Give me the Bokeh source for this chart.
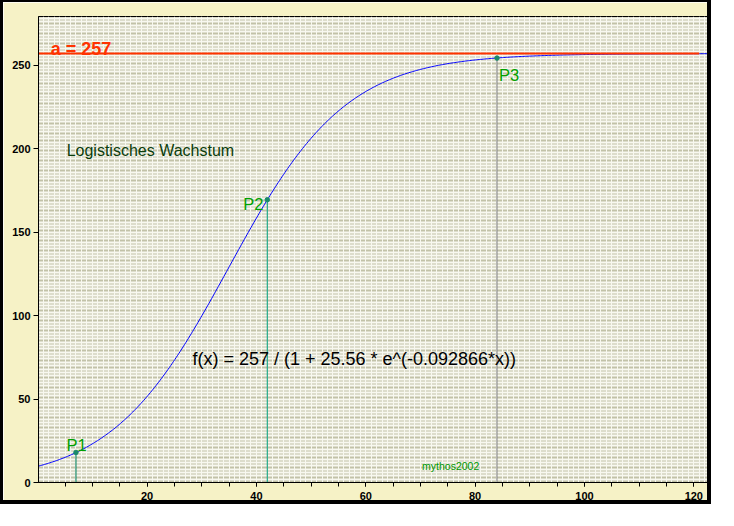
import numpy as np
from bokeh.plotting import figure
from bokeh.models import Range1d, SingleIntervalTicker, FixedTicker, Label
from bokeh.embed import file_html
from bokeh.resources import INLINE

# --- data ---------------------------------------------------------------
# logistic model shown in the chart: f(x) = a / (1 + b * e^(-k*x))
a = 257
b = 25.56
k = 0.092866
curve_x_start = 0
curve_x_end = 124
a_line_end = 121

point_names = ["P1", "P2", "P3"]
point_x = [7, 42, 84]
point_y = [18, 169.4, 254.3]
stem_colors = ["#1a8a6a", "#22a888", "#8c8c8c"]

x_ticks = [20, 40, 60, 80, 100, 120]
x_minor = list(range(5, 125, 5))
y_ticks = [0, 50, 100, 150, 200, 250]

title_text = "Logistisches Wachstum"
a_text = f"a = {a}"
formula_text = f"f(x) = {a} / (1 + {b} * e^(-{k}*x))"
credit_text = "mythos2002"

# --- figure -------------------------------------------------------------
FONT = "Liberation Sans"

p = figure(width=711, height=504,
           x_range=Range1d(0.15, 123.6), y_range=Range1d(0, 279.2),
           output_backend="svg", toolbar_location=None,
           min_border_left=35, min_border_right=1,
           min_border_top=14, min_border_bottom=24)
p.styles = {"border-style": "solid", "border-color": "#000000",
            "border-width": "2px 4px 4px 3px"}

p.border_fill_color = "#f6f2c6"
p.background_fill_color = "#c2c2a8"
p.outline_line_color = "black"
p.outline_line_width = 1

p.xgrid.ticker = SingleIntervalTicker(interval=1)
p.xgrid.grid_line_color = "#f8f8f0"
p.xgrid.grid_line_width = 1
p.ygrid.ticker = SingleIntervalTicker(interval=2)
p.ygrid.grid_line_color = "#f8f8f0"
p.ygrid.grid_line_width = 2

p.xaxis.ticker = FixedTicker(ticks=x_ticks, minor_ticks=x_minor)
p.yaxis.ticker = FixedTicker(ticks=y_ticks, minor_ticks=[])
for ax in (p.xaxis, p.yaxis):
    ax.axis_line_color = "black"
    ax.major_tick_line_color = "black"
    ax.minor_tick_line_color = "black"
    ax.major_tick_in = 0
    ax.minor_tick_in = 0
    ax.major_label_text_font = FONT
    ax.major_label_text_font_style = "bold"
    ax.major_label_text_font_size = "11px"
    ax.major_label_text_color = "black"
p.xaxis.major_tick_out = 4
p.xaxis.minor_tick_out = 4
p.xaxis.major_label_standoff = 5
p.yaxis.major_tick_out = 5
p.yaxis.minor_tick_out = 0
p.yaxis.major_label_standoff = 3

# curve from the chart's formula
xc = np.linspace(curve_x_start, curve_x_end, 500)
yc = a / (1 + b * np.exp(-k * xc))
p.line(xc, yc, line_color="#0000ff", line_width=1)

# asymptote a
p.line([0, a_line_end], [a, a], line_color="#ff3300", line_width=2)

# points with stems
p.segment(x0=point_x, y0=[0] * len(point_x), x1=point_x, y1=point_y,
          line_color=stem_colors, line_width=1.2)
p.scatter(point_x, point_y, size=4.5, fill_color="#1a8a6a",
          line_color="#1a8a6a")

label_offsets = [(-9.5, 7.5), (-24, -4), (2, -17.3)]
for name, px, py, (dx, dy) in zip(point_names, point_x, point_y, label_offsets):
    p.add_layout(Label(x=px, y=py, x_offset=dx, y_offset=dy, text=name,
                       text_font=FONT, text_font_size="16.5px",
                       text_color="#00a000", text_baseline="alphabetic"))

p.add_layout(Label(x=2.4, y=259.5, text=a_text, text_font=FONT,
                   text_font_style="bold", text_font_size="18px",
                   text_color="#ff3300", text_baseline="alphabetic"))
p.add_layout(Label(x=5.3, y=199, text=title_text, text_font=FONT,
                   text_font_size="16px", text_color="#0b3d0b",
                   text_baseline="alphabetic"))
p.add_layout(Label(x=28.3, y=74.0, text=formula_text, text_font=FONT,
                   text_font_size="18px", text_color="black",
                   text_baseline="alphabetic"))
p.add_layout(Label(x=70.3, y=9.7, text=credit_text, text_font=FONT,
                   text_font_size="10.5px", text_color="#009900",
                   text_baseline="alphabetic"))

open("out.html", "w").write(file_html(p, INLINE))
